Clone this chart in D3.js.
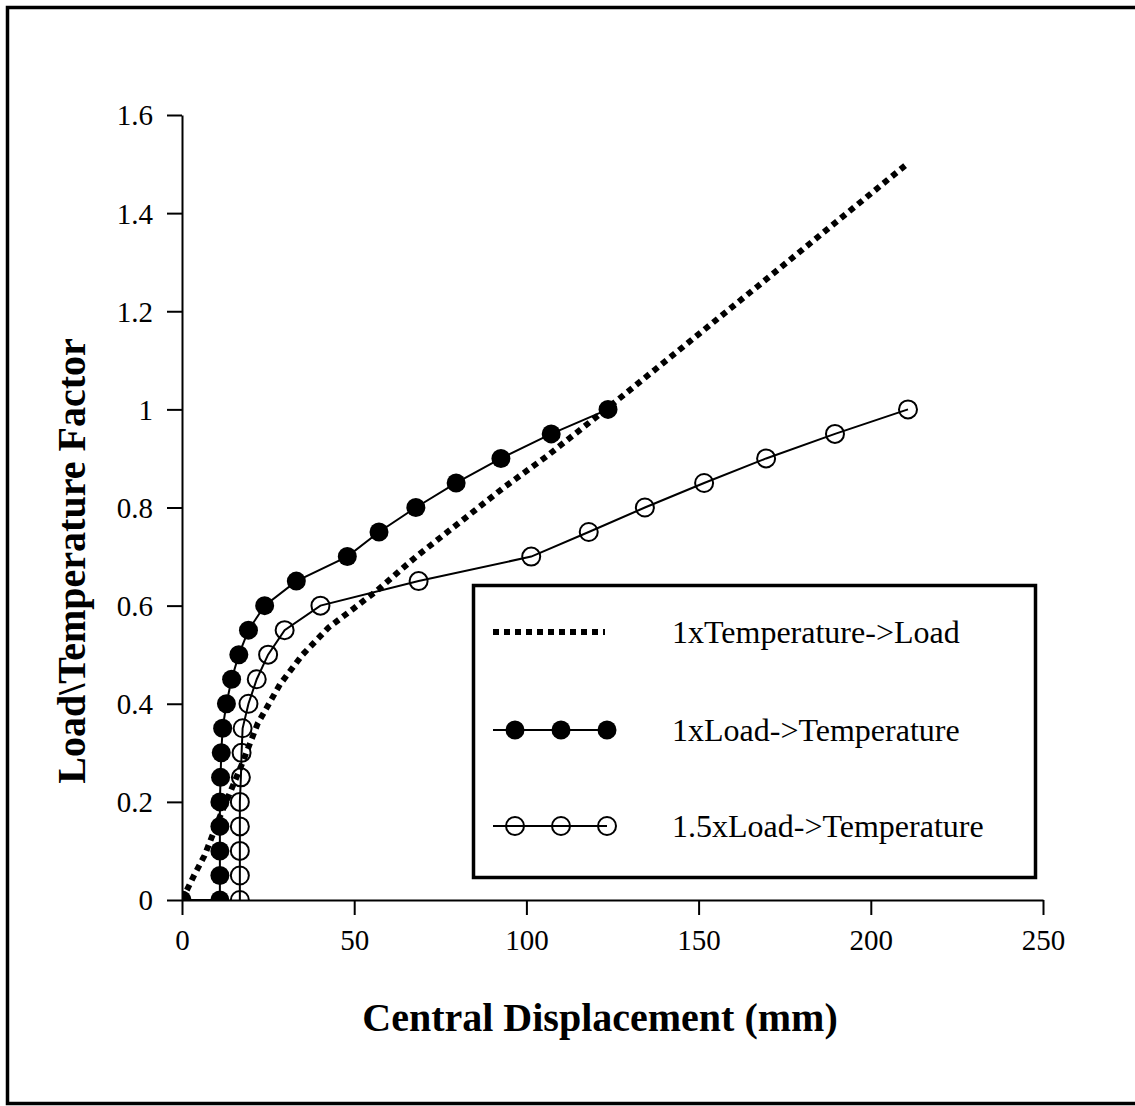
<!DOCTYPE html>
<html>
<head>
<meta charset="utf-8">
<script src="https://cdn.jsdelivr.net/npm/d3@7"></script>
<style>
  html, body { margin: 0; padding: 0; background: #fff; }
  svg { display: block; }
  text { font-family: "Times New Roman", "Liberation Serif", serif; fill: #000; }
</style>
</head>
<body>
<script>
// Series: central displacement (mm) vs load/temperature factor
const tempLoadX = [0, 3.5, 6.5, 11, 17, 22, 28.5, 35, 42.5, 50, 56.5, 68, 80.7, 93.3, 106, 124, 167, 210.5];
const tempLoadY = [0, 0.05, 0.09, 0.17, 0.27, 0.36, 0.44, 0.5, 0.555, 0.595, 0.63, 0.7, 0.77, 0.84, 0.905, 1.005, 1.25, 1.5];

const load1X = [0, 11, 11, 11, 11, 11, 11.2, 11.4, 11.8, 12.9, 14.4, 16.5, 19.3, 24, 33.2, 48, 57.2, 67.9, 79.6, 92.6, 107.2, 123.7];
const load1Y = [0, 0, 0.05, 0.1, 0.15, 0.2, 0.25, 0.3, 0.35, 0.4, 0.45, 0.5, 0.55, 0.6, 0.65, 0.7, 0.75, 0.8, 0.85, 0.9, 0.95, 1.0];

const load15X = [16.8, 16.8, 16.8, 16.8, 16.8, 17.1, 17.3, 17.6, 19.3, 21.7, 25, 29.8, 40.2, 68.7, 101.4, 118.1, 134.4, 151.6, 169.6, 189.6, 210.8];
const load15Y = [0, 0.05, 0.1, 0.15, 0.2, 0.25, 0.3, 0.35, 0.4, 0.45, 0.5, 0.55, 0.6, 0.65, 0.7, 0.75, 0.8, 0.85, 0.9, 0.95, 1.0];

const xTicks = [0, 50, 100, 150, 200, 250];
const yTicks = [0, 0.2, 0.4, 0.6, 0.8, 1.0, 1.2, 1.4, 1.6];
const yTickLabels = ["0", "0.2", "0.4", "0.6", "0.8", "1", "1.2", "1.4", "1.6"];

const seriesNames = ["1xTemperature->Load", "1xLoad->Temperature", "1.5xLoad->Temperature"];

const W = 1135, H = 1106;
const svg = d3.select("body").append("svg").attr("width", W).attr("height", H);

// outer frame
svg.append("rect")
  .attr("x", 7.5).attr("y", 7.5).attr("width", 1135).attr("height", 1096)
  .attr("fill", "none").attr("stroke", "#000").attr("stroke-width", 3.5);

const x = d3.scaleLinear().domain([0, 250]).range([182, 1043]);
const y = d3.scaleLinear().domain([0, 1.6]).range([900, 115]);

// axes
const yAxis = d3.axisLeft(y).tickValues(yTicks).tickSize(15).tickSizeOuter(0).tickPadding(14)
  .tickFormat((d, i) => yTickLabels[i]);
const xAxis = d3.axisBottom(x).tickValues(xTicks).tickSize(15).tickSizeOuter(0).tickPadding(12)
  .tickFormat(d3.format("d"));

const gy = svg.append("g").attr("transform", `translate(${x(0)},0)`).call(yAxis);
const gx = svg.append("g").attr("transform", `translate(0,${y(0)})`).call(xAxis);
[gx, gy].forEach(g => {
  g.select(".domain").attr("stroke", "#000").attr("stroke-width", 2);
  g.selectAll(".tick line").attr("stroke", "#000").attr("stroke-width", 2);
  g.selectAll(".tick text").attr("font-size", 29).attr("font-family", '"Times New Roman", "Liberation Serif", serif').attr("fill", "#000");
});
gy.selectAll(".tick text").attr("dy", "0.34em");
gx.selectAll(".tick text").attr("dy", "0.8em");

// axis titles
svg.append("text")
  .attr("x", 600).attr("y", 1031)
  .attr("text-anchor", "middle")
  .attr("font-size", 40).attr("font-weight", "bold")
  .text("Central Displacement (mm)");

svg.append("text")
  .attr("transform", "translate(85,561) rotate(-90)")
  .attr("text-anchor", "middle")
  .attr("font-size", 40).attr("font-weight", "bold")
  .text("Load\\Temperature Factor");

// clip to plot area
svg.append("clipPath").attr("id", "plotclip")
  .append("rect").attr("x", x(0)).attr("y", y(1.6)).attr("width", x(250) - x(0)).attr("height", y(0) - y(1.6));

const plot = svg.append("g").attr("clip-path", "url(#plotclip)");
const line = d3.line().x(d => x(d[0])).y(d => y(d[1]));

const tempLoad = tempLoadX.map((v, i) => [v, tempLoadY[i]]);
const load1 = load1X.map((v, i) => [v, load1Y[i]]);
const load15 = load15X.map((v, i) => [v, load15Y[i]]);

// dotted series
plot.append("path").datum(tempLoad).attr("d", line)
  .attr("fill", "none").attr("stroke", "#000").attr("stroke-width", 6)
  .attr("stroke-dasharray", "6,5");

// open-circle series
plot.append("path").datum(load15).attr("d", line)
  .attr("fill", "none").attr("stroke", "#000").attr("stroke-width", 2);
plot.selectAll("circle.open").data(load15).join("circle").attr("class", "open")
  .attr("cx", d => x(d[0])).attr("cy", d => y(d[1])).attr("r", 9)
  .attr("fill", "none").attr("stroke", "#000").attr("stroke-width", 2);

// filled-circle series
plot.append("path").datum(load1).attr("d", line)
  .attr("fill", "none").attr("stroke", "#000").attr("stroke-width", 2);
plot.selectAll("circle.filled").data(load1).join("circle").attr("class", "filled")
  .attr("cx", d => x(d[0])).attr("cy", d => y(d[1])).attr("r", 9.5)
  .attr("fill", "#000");

// legend
const lg = svg.append("g");
lg.append("rect").attr("x", 473.5).attr("y", 585.5).attr("width", 562).attr("height", 292)
  .attr("fill", "#fff").attr("stroke", "#000").attr("stroke-width", 3.5);

const rowY = [632, 730, 826];
const sx0 = 493, sx1 = 607;
const markX = [515, 561, 607];

lg.append("line").attr("x1", sx0).attr("x2", 605).attr("y1", rowY[0]).attr("y2", rowY[0])
  .attr("stroke", "#000").attr("stroke-width", 6).attr("stroke-dasharray", "6,5");

lg.append("line").attr("x1", sx0).attr("x2", sx1).attr("y1", rowY[1]).attr("y2", rowY[1])
  .attr("stroke", "#000").attr("stroke-width", 2);
lg.selectAll("circle.lf").data(markX).join("circle").attr("class", "lf")
  .attr("cx", d => d).attr("cy", rowY[1]).attr("r", 9.5).attr("fill", "#000");

lg.append("line").attr("x1", sx0).attr("x2", sx1).attr("y1", rowY[2]).attr("y2", rowY[2])
  .attr("stroke", "#000").attr("stroke-width", 2);
lg.selectAll("circle.lo").data(markX).join("circle").attr("class", "lo")
  .attr("cx", d => d).attr("cy", rowY[2]).attr("r", 9).attr("fill", "none")
  .attr("stroke", "#000").attr("stroke-width", 2);

lg.selectAll("text.lt").data(seriesNames).join("text").attr("class", "lt")
  .attr("x", 672).attr("y", (d, i) => rowY[i] + 11)
  .attr("font-size", 32)
  .text(d => d);
</script>
</body>
</html>
